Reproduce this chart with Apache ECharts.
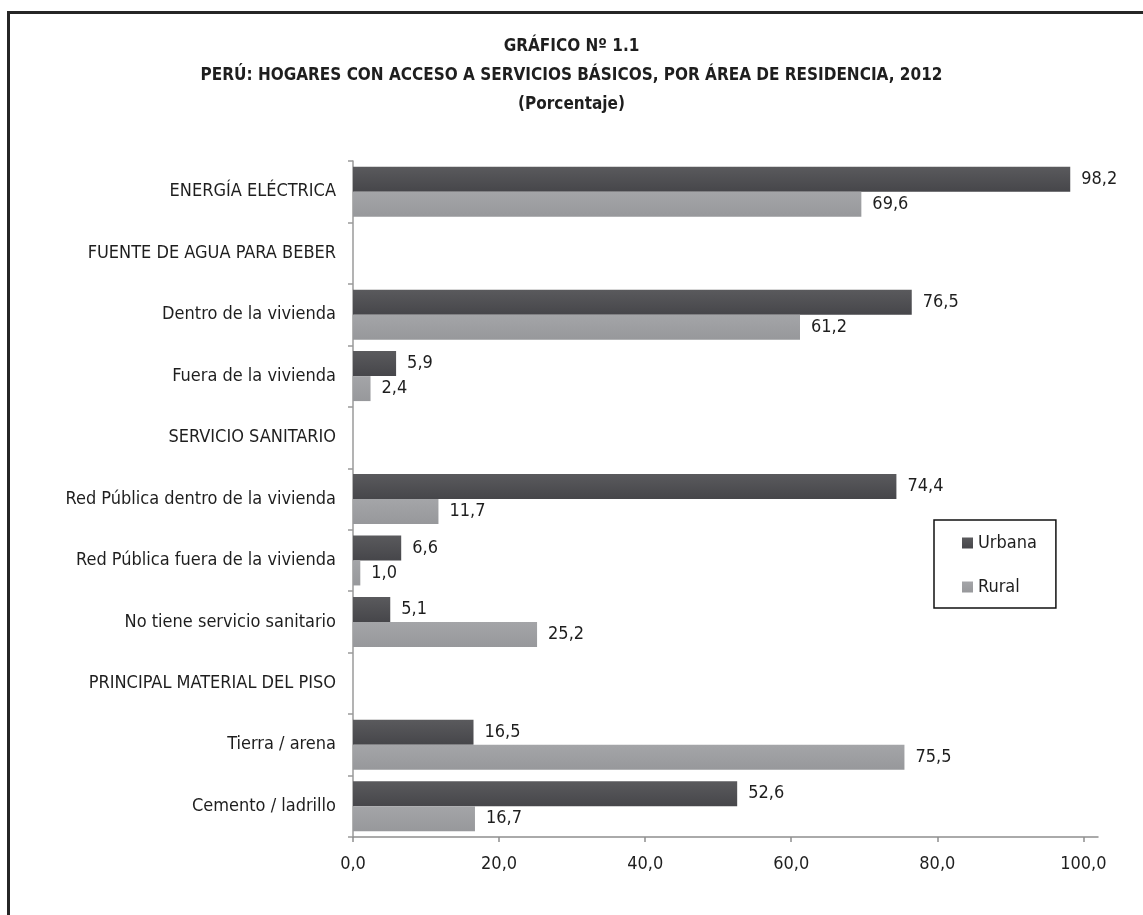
<!DOCTYPE html>
<html>
<head>
<meta charset="utf-8">
<script src="https://cdn.jsdelivr.net/npm/echarts@6/dist/echarts.min.js"></script>
<style>
html,body{margin:0;padding:0;background:#fff;}
#c{width:1143px;height:915px;}
</style>
</head>
<body>
<div id="c"></div>
<script>
const titleLines = ['GRÁFICO Nº 1.1', 'PERÚ: HOGARES CON ACCESO A SERVICIOS BÁSICOS, POR ÁREA DE RESIDENCIA, 2012', '(Porcentaje)'];
const categories = ['ENERGÍA ELÉCTRICA', 'FUENTE DE AGUA PARA BEBER', 'Dentro de la vivienda', 'Fuera de la vivienda', 'SERVICIO SANITARIO', 'Red Pública dentro de la vivienda', 'Red Pública fuera de la vivienda', 'No tiene servicio sanitario', 'PRINCIPAL MATERIAL DEL PISO', 'Tierra / arena', 'Cemento / ladrillo'];
const seriesNames = ['Urbana', 'Rural'];
const urbana = [98.2, null, 76.5, 5.9, null, 74.4, 6.6, 5.1, null, 16.5, 52.6];
const rural = [69.6, null, 61.2, 2.4, null, 11.7, 1.0, 25.2, null, 75.5, 16.7];
const xTicks = [0, 20, 40, 60, 80, 100];

const FONT = "'Liberation Sans Narrow', 'Arial Narrow', 'DejaVu Sans Condensed', sans-serif";
const FS = 18;
const fmt = v => Number(v).toFixed(1).replace('.', ',');

const chart = echarts.init(document.getElementById('c'), null, {renderer: 'canvas'});
const grad = (a, b) => new echarts.graphic.LinearGradient(0, 0, 0, 1, [{offset: 0, color: a}, {offset: 1, color: b}]);

chart.setOption({
  animation: false,
  backgroundColor: '#ffffff',
  textStyle: {fontFamily: FONT},
  graphic: [{
    type: 'rect', left: 6, top: 10, z: 100, silent: true,
    shape: {width: 1160, height: 930},
    style: {fill: null, stroke: '#262626', lineWidth: 3}
  }],
  title: {
    text: titleLines.join('\n'),
    left: 'center', top: 27,
    textStyle: {fontFamily: FONT, fontSize: 17, fontWeight: 'bold', color: '#1e1e1e', lineHeight: 29, align: 'center'}
  },
  legend: {
    orient: 'vertical', left: 934, top: 520,
    padding: [14, 19, 12, 28], itemGap: 26,
    itemWidth: 11, itemHeight: 11, icon: 'rect',
    borderColor: '#111', borderWidth: 1.5,
    textStyle: {fontFamily: FONT, fontSize: FS, color: '#1e1e1e'},
    data: seriesNames
  },
  grid: {left: 353, right: 45, top: 161, bottom: 78, containLabel: false},
  xAxis: {
    type: 'value', min: 0, max: 102,
    axisLine: {show: true, lineStyle: {color: '#8f8f8f', width: 1.5}},
    axisTick: {show: true, length: 5, customValues: xTicks, lineStyle: {color: '#8f8f8f', width: 1.5}},
    axisLabel: {customValues: xTicks, margin: 18, fontFamily: FONT, fontSize: FS, color: '#1e1e1e', formatter: v => fmt(v)},
    splitLine: {show: false}
  },
  yAxis: {
    type: 'category', inverse: true, data: categories,
    axisLine: {show: true, lineStyle: {color: '#9a9a9a', width: 1.5}},
    axisTick: {show: true, length: 5, alignWithLabel: false, lineStyle: {color: '#9a9a9a', width: 1.5}},
    axisLabel: {margin: 17, fontFamily: FONT, fontSize: FS, color: '#1e1e1e', interval: 0}
  },
  series: [{
    name: seriesNames[0], type: 'bar', data: urbana,
    barWidth: 25, barGap: '0%',
    itemStyle: {color: grad('#5a5a5d', '#46464a')},
    label: {show: true, position: 'right', distance: 11, fontFamily: FONT, fontSize: FS, color: '#1e1e1e', formatter: p => fmt(p.value)}
  }, {
    name: seriesNames[1], type: 'bar', data: rural,
    barWidth: 25, barGap: '0%',
    itemStyle: {color: grad('#a4a5a8', '#97989b')},
    label: {show: true, position: 'right', distance: 11, fontFamily: FONT, fontSize: FS, color: '#1e1e1e', formatter: p => fmt(p.value)}
  }]
});
</script>
</body>
</html>
